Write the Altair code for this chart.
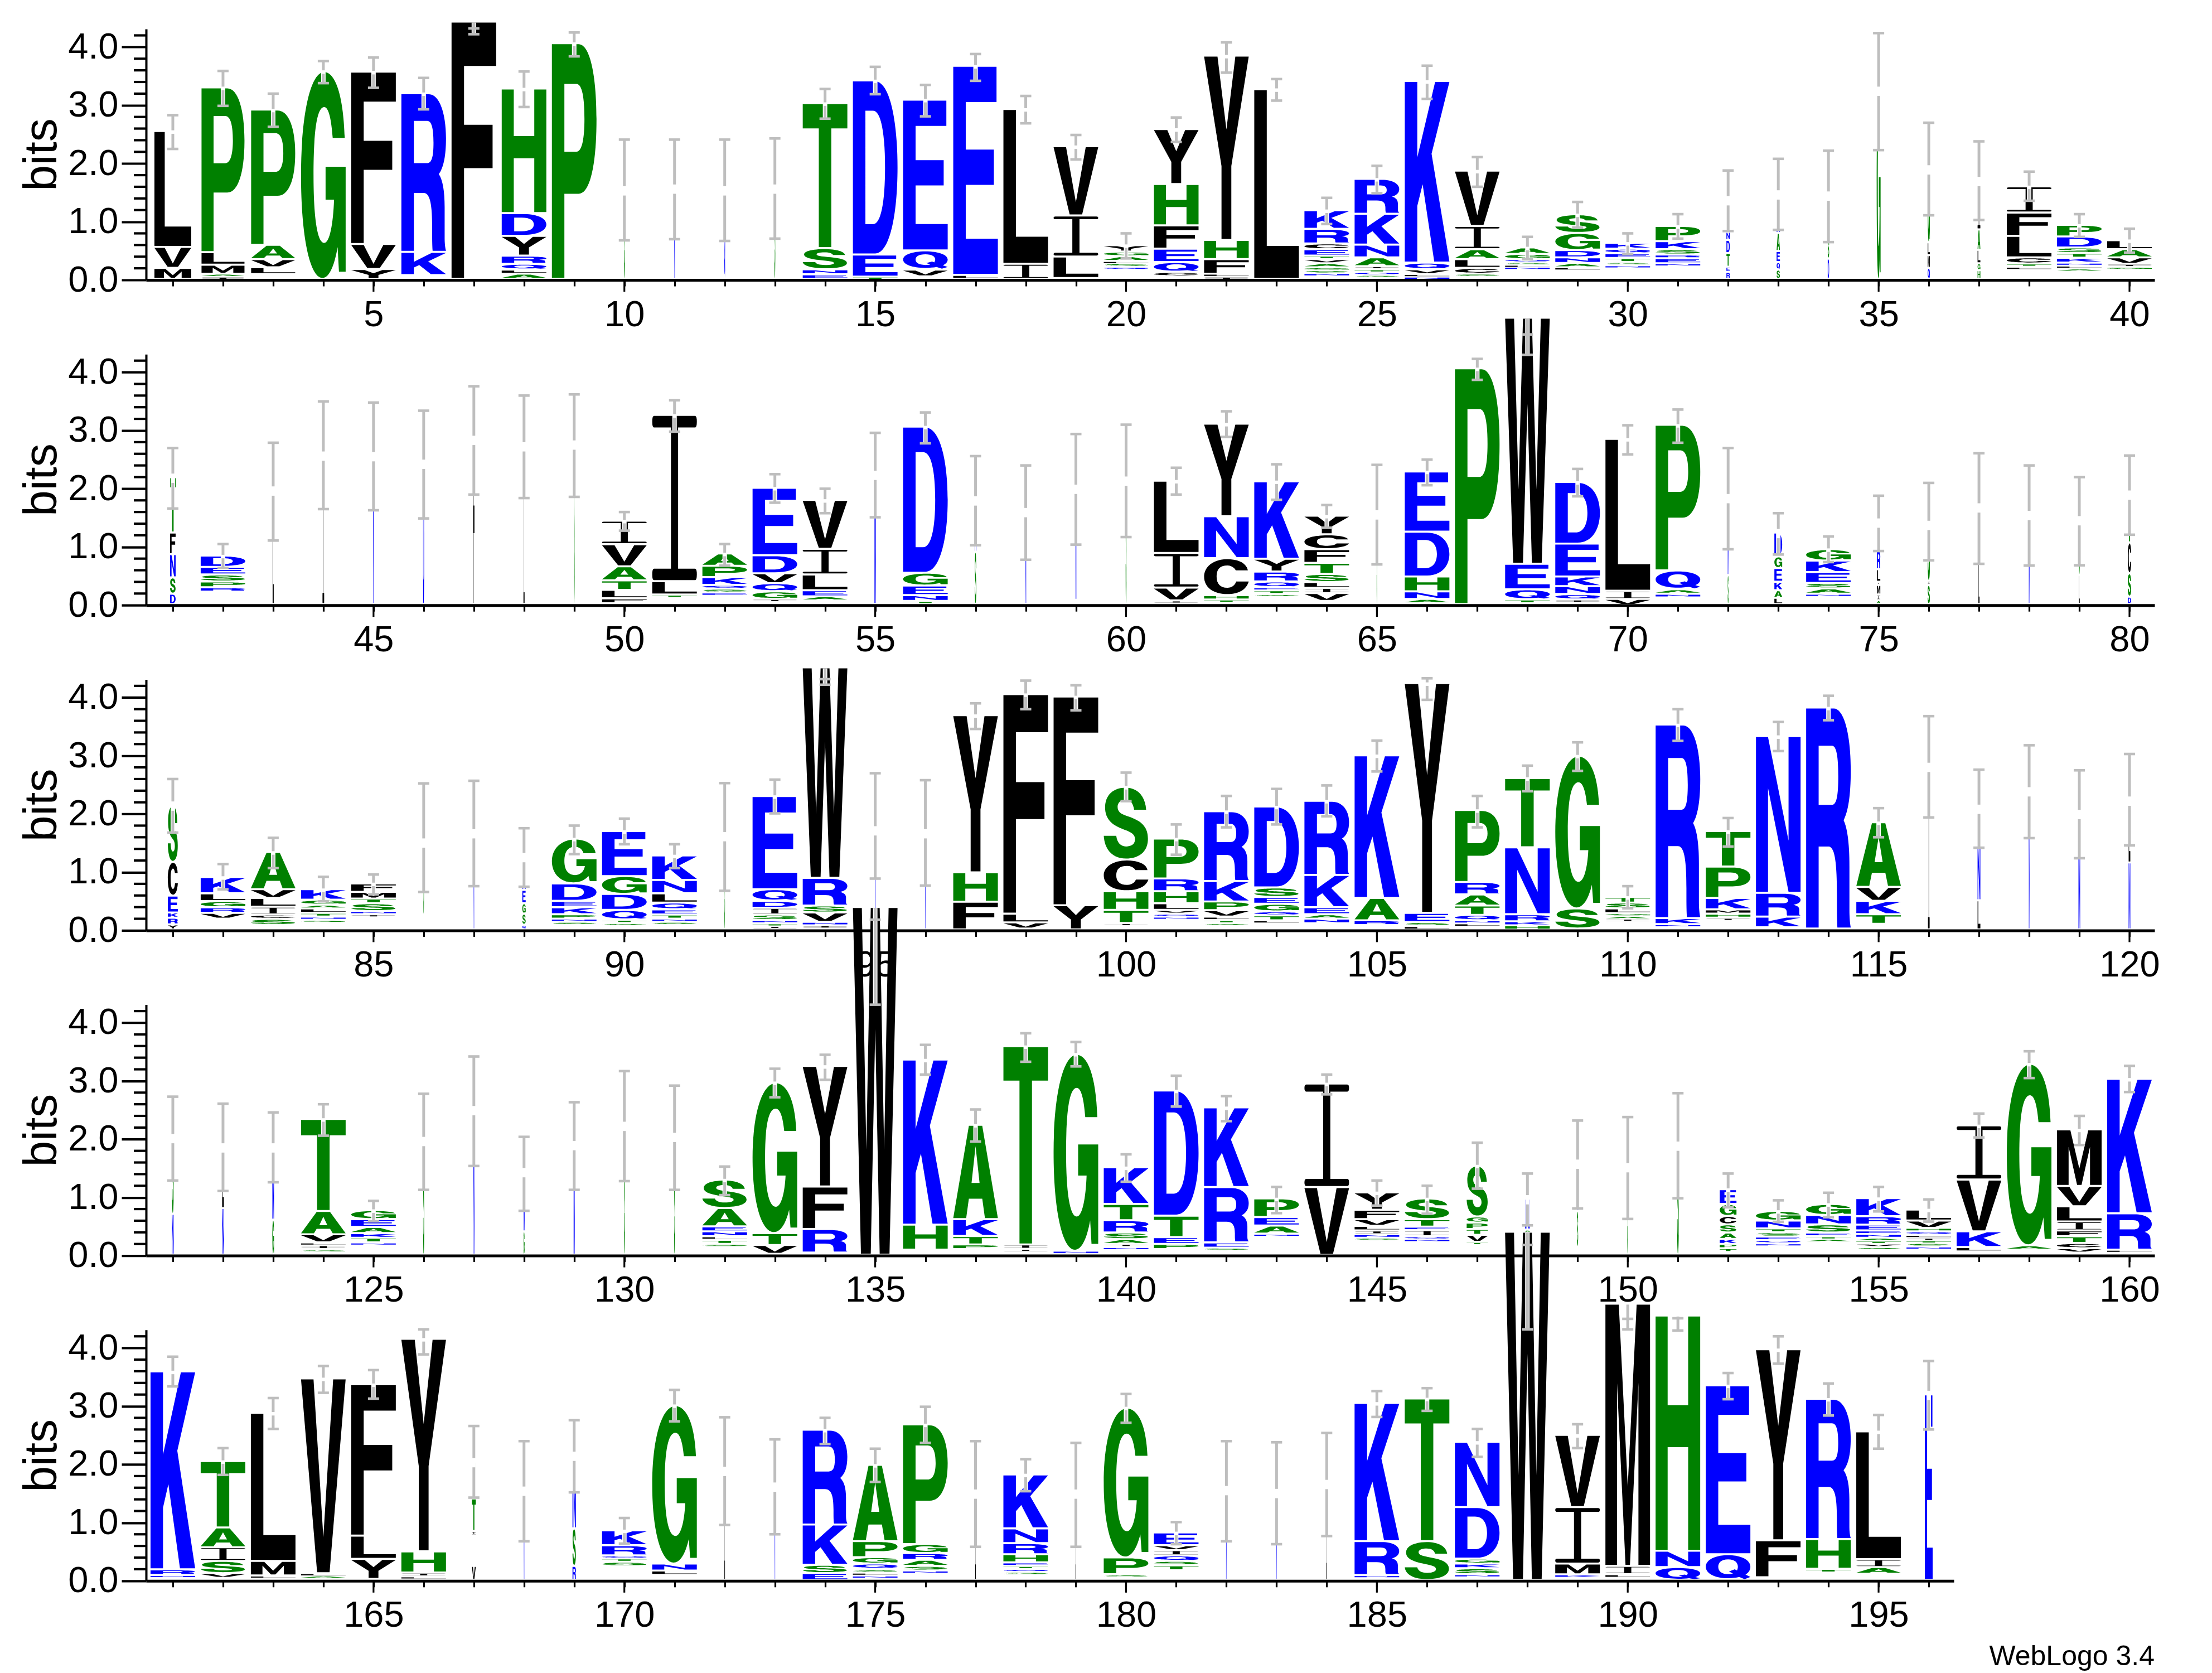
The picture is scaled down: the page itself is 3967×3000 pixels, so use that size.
import re
import altair as alt
import pandas as pd

FONT = "Liberation Sans"
GREEN, BLUE, BLACK, GRAY = "#008000", "#0000ff", "#000000", "#bebebe"
COLORS = {**{c: GREEN for c in "AGSTHP"}, **{c: BLUE for c in "DEKRNQ"}, **{c: BLACK for c in "CFILMVWY"}}

# Each entry: (stack, error-bar top, error-bar bottom).
# A stack lists, bottom to top, letter + top of the glyph in bits. A bare number is an empty stretch.
ROW1 = [
("M.19 V.55 L2.54",2.83,2.25),("I.04 A.09 M.245 L.46 P3.29",3.59,2.99),(".117 L.2 V.34 A.586 P2.91",3.2,2.63),("G3.57",3.76,3.38),
(".03 Y.17 V.6 F3.56",3.82,3.30),(".1 K.465 R3.19",3.47,2.93),("F4.42",4.32,4.22),("A.09 L.16 Q.26 R.4 Y.74 D1.13 H3.27",3.58,2.97),
("P4.05",4.25,3.84),("S1.53",2.41,.68),("N1.56",2.41,.70),("Q1.53",2.41,.67),("S1.56",2.43,.71),("E.08 N.165 S.53 T3.02",3.28,2.77),
("T.04 E.42 D3.41",3.66,3.19),(".08 V.16 Q.49 E3.08",3.35,2.81),("L.07 E3.66",3.88,3.42),("I.26 L2.92",3.16,2.69),(".05 L.385 I1.09 V2.28",2.49,2.07),
(".19 Q.21 S.27 L.31 A.39 G.47 Y.58",.80,.37),(".08 C.12 Q.29 E.52 F.92 H1.63 Y2.575",2.79,2.37),("I.04 L.09 F.34 H.67 Y3.835",4.08,3.56),
("L3.26",3.45,3.08),(".09 N.1 S.15 G.2 A.27 V.34 T.4 E.51 C.61 R.86 K1.18",1.41,.96),(".05 S.07 Q.12 T.165 I.22 A.37 N.59 K1.12 R1.72",1.96,1.49),
("N.04 L.085 V.165 Q.28 K3.4",3.68,3.11),(".07 S.09 C.19 L.34 A.51 I.91 V1.86",2.11,1.6),(".2 N.21 L.245 S.29 Q.34 G.43 A.54",.74,.355),
(".19 L.2 A.275 N.37 D.495 G.79 S1.11",1.34,.9),(".22 N.235 S.29 T.36 E.44 Q.52 K.62",.8,.44),(".26 N.27 E.355 R.42 S.51 K.65 P.91",1.13,.71),
("R.12 E.21 T.445 D.67 N.81 Q1.36",1.88,.84),("S.16 Q.29 E.48 A.79 N1.46",2.08,.86),("D.35 S.7 E1.44",2.22,.65),("G3.24",4.24,2.23),
("Q.19 M.41 L.63 G1.89",2.7,1.11),("H.15 G.27 L.5 A.85 I1.69",2.38,1.03),(".2 L.21 T.265 C.37 L.74 F1.14 I1.59",1.86,1.36),
(".17 A.18 L.23 N.28 K.365 T.445 S.54 D.73 P.93",1.13,.74),(".2 G.21 I.26 V.37 A.51 L.665",.88,.47),
]
ROW2 = [
("D.18 S.46 N.86 F1.23 T2.18",2.7,1.66),(".25 R.29 P.39 S.51 E.64 D.835",1.05,.64),("L1.96",2.79,1.11),("I2.56",3.5,1.65),("N2.55",3.48,1.63),
("D2.42",3.34,1.49),("F2.83",3.76,1.9),("I2.72",3.6,1.84),("S2.75",3.62,1.86),(".05 F.1 L.245 T.41 A.65 V1.03 I1.435",1.6,1.28),
(".14 T.165 L.395 I3.25",3.52,2.98),(".19 E.2 S.265 Q.33 K.465 P.66 A.87",1.05,.68),(".08 I.09 G.22 Q.36 V.53 D.84 E2.0",2.25,1.76),
(".1 A.135 E.24 L.51 I.95 V1.79",2.0,1.58),("N2.23",2.96,1.51),("T.055 N.155 E.32 G.54 D3.05",3.31,2.78),("S.9 N1.79",2.56,1.03),("N1.59",2.4,.78),
(".11 N1.99",2.94,1.04),("S2.13",3.1,1.17),(".05 I.065 V.285 I.88 L2.12",2.36,1.9),(".06 T.08 H.155 C.79 N1.51 Y3.1",3.33,2.89),
(".16 S.175 T.24 E.29 Q.39 R.56 Y.78 K2.11",2.42,1.81),(".09 V.19 I.28 L.38 S.52 T.71 F.945 C1.2 Y1.52",1.72,1.33),("S1.55",2.41,.7),
(".05 A.09 N.22 H.475 D1.245 E2.28",2.5,2.06),("P4.05",4.23,3.87),(".05 T.08 Q.255 E.695 W4.92",4.65,4.3),(".06 I.08 Q.175 N.31 K.475 E1.04 D2.1",2.34,1.87),
(".02 V.09 I.23 L2.84",3.09,2.59),(".15 N.18 A.255 Q.58 P3.08",3.36,2.79),("S.5 N1.83",2.7,.96),("L.11 A.24 K.385 E.62 G.82 D1.23",1.58,.87),
(".17 N.18 A.27 S.365 E.55 K.75 G.945",1.18,.74),("A.07 I.165 M.33 I.385 L.6 R.92 L1.41",1.88,.93),("S.33 I.4 S1.37",2.1,.77),("L.7 S1.67",2.61,.71),
("N1.54",2.4,.68),("L.5 S1.45",2.2,.685),("D.13 S.53 C1.06 T1.89",2.57,1.21),
]
ROW3 = [
("Y.085 R.2 K.29 E.58 C1.16 S2.135",2.6,1.68),(".22 V.285 R.38 G.485 L.62 K.9",1.14,.705),(".11 S.18 C.255 I.39 L.54 V.69 A1.33",1.59,1.07),
(".15 S.167 N.22 T.285 L.36 A.425 G.51 K.69",.92,.5),(".25 I.26 N.315 S.45 T.53 M.645 F.79",.96,.62),(".29 S1.5",2.525,.66),("N1.66",2.57,.76),
("Q.08 S.27 G.45 E.68 N.9 T1.25",1.755,.75),(".11 S.13 N.185 P.26 K.38 E.49 D.79 G1.56",1.8,1.31),(".1 S.11 T.167 Q.335 D.61 G.915 E1.69",1.92,1.48),
(".12 S.13 N.185 T.255 E.345 Q.46 L.62 N.85 K1.27",1.48,1.07),("S1.61",2.53,.68),(".05 I.06 T.105 N.16 S.255 I.37 D.49 Q.69 E2.29",2.59,2.01),
(".05 I.07 N.13 V.29 S.41 R.885 W4.5",4.315,4.22),("N1.71",2.7,.89),("N1.66",2.58,.77),("F.475 H.98 Y3.68",3.9,3.46),(".05 V.12 L.27 F4.04",4.29,3.8),
("Y.415 F4.0",4.21,3.78),(".09 I.11 T.335 H.655 C1.2 S2.45",2.71,2.22),(".21 N.22 Q.27 V.335 L.45 H.655 R.875 P1.56",1.82,1.3),
(".1 S.11 T.16 L.22 V.33 P.48 K.83 R2.03",2.31,1.77),(".15 L.156 T.24 Q.31 G.44 E.557 S.72 D2.11",2.43,1.82),(".14 N.185 A.26 E.38 K.935 R2.21",2.49,1.96),
(".11 R.156 A.54 K2.99",3.26,2.73),(".03 L.06 S.125 E.285 Y4.23",4.33,3.96),(".08 L.105 N.156 Q.25 T.41 A.6 R.815 P2.05",2.31,1.77),
(".03 H.07 K.14 R.26 N1.41 T2.6",2.83,2.39),(".05 S.36 G2.985",3.23,2.74),(".17 I.185 A.23 G.28 L.36 S.46 T.557",.76,.38),(".07 N.09 K.195 R3.52",3.8,3.255),
(".19 I.2 H.27 M.345 K.54 P1.08 T1.69",1.93,1.44),(".07 K.22 R.63 N3.32",3.58,3.08),(".05 R3.81",4.03,3.61),(".13 T.26 K.49 V.73 A1.84",2.1,1.6),
("I2.8",3.68,1.94),("L.5 N1.42 S2.08",2.76,1.42),("N2.38",3.18,1.585),("N1.99",2.75,1.24),("N1.15 L2.22",3.03,1.46),
]
ROW4 = [
("N.7 S2.01",2.73,1.29),("N.8 L1.85",2.61,1.11),("G.6 N1.85",2.46,1.26),(".08 S.095 I.165 L.21 V.35 A.75 T2.33",2.6,2.06),
(".2 N.21 T.29 K.37 A.475 E.61 G.765",.94,.59),("S1.96",2.78,1.13),("N2.49",3.42,1.54),("G.4 N1.425",2.04,.77),("N1.89",2.635,1.13),("S2.22",3.17,1.28),
("S2.03",2.92,1.13),(".17 S.185 T.255 L.315 N.4 E.485 A.8 S1.29",1.53,1.04),(".05 V.165 T.37 G2.96",3.21,2.72),(".07 R.44 F1.17 Y3.24",3.45,3.02),
("W5.97",5.77,4.31),(".12 H.515 K3.35",3.62,3.11),(".13 P.175 T.32 K.61 A2.23",2.51,1.96),(".08 I.1 I.175 T3.58",3.82,3.33),(".05 N.067 G3.45",3.67,3.25),
(".12 N.13 I.185 A.265 S.38 R.59 T.87 K1.5",1.74,1.27),(".13 P.185 E.3 T.67 D2.82",3.09,2.56),(".11 S.12 E.21 R1.16 K2.53",2.74,2.31),
(".35 N.36 A.5 E.645 P.965",1.18,.73),(".03 V1.16 I2.94",3.11,2.77),(".28 S.29 N.35 I.415 L.495 V.61 F.77 Y1.07",1.29,.86),
(".26 N.27 Q.315 I.42 E.48 T.61 S.965",1.2,.72),(".2 T.22 V.34 T.44 P.55 G.655 S1.53",1.94,1.15),(".25 S.38 G.43 N.96",1.41,.52),(".17 S.75 N1.57",2.32,.81),
("S1.51",2.38,.63),("S1.88",2.79,.985),(".08 T.11 P.185 K.27 A.38 S.52 C.665 G.87 E1.125",1.41,.83),(".19 N.195 Q.25 E.31 S.385 T.45 N.585 G.75",.95,.58),
(".26 A.27 T.315 E.38 S.52 N.68 G.87",1.08,.66),(".12 S.13 V.19 T.24 A.29 N.355 E.415 E.515 R.66 K.97",1.18,.76),
(".13 N.14 S.2 T.245 I.29 L.34 Q.4 H.46 V.585 L.775",.965,.585),(".09 L.13 K.4 V1.29 I2.22",2.44,2.03),(".12 A.16 G3.28",3.51,3.05),
(".07 V.11 C.2 T.315 F.415 I.57 L.83 V1.18 M2.15",2.4,1.9),(".07 L.085 R.71 K3.02",3.26,2.81),
]
ROW5 = [
(".07 N.085 R.18 K3.58",3.85,3.34),(".07 V.115 S.325 I.56 A.9 T2.04",2.28,1.82),(".06 L.075 M.325 L2.87",3.14,2.61),(".06 A.075 L.115 V3.46",3.69,3.23),
(".05 Y.36 L.76 F3.36",3.62,3.13),(".05 L.06 I.125 H.49 Y4.14",4.32,3.89),("V.24 .8 I.84 T1.4 T2.03",2.66,1.43),("N1.54",2.4,.68),("R.24 S.885 N2.14",2.76,1.52),
(".27 S.31 T.37 Q.42 R.595 K.85",1.08,.64),(".12 L.16 N.28 G3.0",3.28,2.74),("L1.88",2.81,.96),("N1.61",2.43,.8),(".03 E.116 S.26 K.95 R2.58",2.8,2.35),
(".06 N.075 L.125 S.19 Q.28 G.39 P.665 A1.975",2.27,1.7),(".15 N.16 S.24 A.345 R.46 G.615 P2.67",2.99,2.37),("L1.49",2.4,.585),
(".13 S.137 Q.19 T.24 E.3 H.44 R.63 N.885 K1.81",2.09,1.54),("L1.49",2.37,.585),(".08 S.096 P.385 G2.96",3.21,2.715),(".2 T.25 S.325 Q.42 I.51 V.595 E.815",1.01,.63),
("N1.55",2.4,.68),("N1.5",2.38,.63),("L1.655",2.54,.77),(".07 N.083 R.665 K3.04",3.26,2.815),(".03 S.665 T3.115",3.31,2.92),
(".08 N.096 S.2 K.28 G.365 D1.25 N2.37",2.61,2.13),("W5.98",5.77,4.32),(".07 K.095 M.28 I1.25 V2.49",2.69,2.28),(".07 L.096 I.24 M4.745",4.5,4.32),
(".03 Q.22 N.5 H4.54",4.51,4.3),(".03 Q.44 E3.34",3.57,3.12),(".08 F.68 Y3.96",4.2,3.73),(".16 T.19 H.7 R3.11",3.39,2.84),(".14 A.22 I.355 L2.55",2.85,2.27),
("E3.185",3.775,2.6),
]
ROWS = [(1, ROW1), (41, ROW2), (81, ROW3), (121, ROW4), (161, ROW5)]

# Stack width in px where a position is narrower than the full 80 px column.
WIDTHS = {1:66,2:77,3:79,10:1.5,11:1.5,12:1.5,13:1.5,32:6,33:6,34:2.5,35:7,36:4,37:5,41:10,43:2,44:3,45:1.5,46:2,47:2.5,48:2,49:1.5,
55:2.5,57:2.5,58:1.5,59:1.5,60:1.5,65:1,72:1.5,73:14,75:6,76:4,77:2,78:1.5,79:1.5,80:6,81:18,86:1,87:1,88:6,92:1,95:1,96:1,
116:3,117:5,118:1.5,119:3,120:3,121:3,122:3,123:3,126:2,127:2,128:2,129:2,130:1.5,131:1.5,147:38,148:8,149:2,150:1.5,151:3,152:30,
167:7,168:1,169:6,172:1,173:1,177:1,179:1,182:1,183:1,184:1,196:14}
FULL_WIDTH = 80

# Letter outlines in a unit box, y up, counters wound the opposite way.
GLYPHS = {
"A": "M0,0L.29,0L.35,.21L.65,.21L.71,0L1,0L.65,1L.35,1ZM.5,.78L.59,.38L.41,.38Z",
"C": "M.98,.68C.95,.9 .75,1 .52,1C.2,1 0,.78 0,.5C0,.2 .2,0 .52,0C.78,0 .95,.13 1,.36L.72,.36C.69,.25 .62,.18 .52,.18C.36,.18 .28,.3 .28,.5C.28,.72 .36,.82 .52,.82C.62,.82 .68,.75 .71,.68Z",
"D": "M0,0L0,1L.5,1C.82,1 1,.78 1,.5C1,.22 .82,0 .5,0ZM.28,.17L.45,.17C.63,.17 .72,.3 .72,.5C.72,.7 .63,.83 .45,.83L.28,.83Z",
"E": "M0,0L0,1L.97,1L.97,.83L.28,.83L.28,.6L.91,.6L.91,.43L.28,.43L.28,.17L1,.17L1,0Z",
"F": "M0,0L0,1L1,1L1,.83L.28,.83L.28,.6L.92,.6L.92,.43L.28,.43L.28,0Z",
"G": "M.98,.68C.95,.9 .75,1 .52,1C.2,1 0,.78 0,.5C0,.2 .2,0 .48,0C.62,0 .74,.05 .82,.15L.85,.03L1,.03L1,.54L.55,.54L.55,.38L.74,.38C.72,.26 .64,.17 .52,.17C.36,.17 .28,.3 .28,.5C.28,.72 .36,.83 .52,.83C.62,.83 .68,.77 .71,.68Z",
"H": "M0,0L0,1L.27,1L.27,.62L.73,.62L.73,1L1,1L1,0L.73,0L.73,.44L.27,.44L.27,0Z",
"I": "M.04,1L.96,1Q1,1 1,.965Q1,.93 .96,.93L.58,.93L.58,.07L.96,.07Q1,.07 1,.035Q1,0 .96,0L.04,0Q0,0 0,.035Q0,.07 .04,.07L.42,.07L.42,.93L.04,.93Q0,.93 0,.965Q0,1 .04,1Z",
"K": "M0,0L0,1L.28,1L.28,.58L.68,1L1,1L.6,.6L1,0L.66,0L.4,.43L.28,.31L.28,0Z",
"L": "M0,0L0,1L.28,1L.28,.17L1,.17L1,0Z",
"M": "M0,0L0,1L.3,1L.5,.3L.7,1L1,1L1,0L.74,0L.74,.7L.55,0L.45,0L.26,.7L.26,0Z",
"N": "M0,0L0,1L.27,1L.73,.33L.73,1L1,1L1,0L.73,0L.27,.67L.27,0Z",
"P": "M0,0L0,1L.6,1C.85,1 1,.87 1,.68C1,.48 .85,.36 .6,.36L.28,.36L.28,0ZM.28,.54L.55,.54C.68,.54 .73,.6 .73,.68C.73,.77 .68,.83 .55,.83L.28,.83Z",
"Q": "M.5,1C.8,1 1,.8 1,.52C1,.38 .96,.27 .89,.19L1,.09L.87,0L.75,.09C.68,.06 .6,.04 .5,.04C.2,.04 0,.24 0,.52C0,.8 .2,1 .5,1ZM.5,.83C.35,.83 .28,.7 .28,.52C.28,.34 .35,.21 .5,.21C.54,.21 .58,.22 .61,.24L.52,.32L.65,.41L.7,.36C.71,.41 .72,.46 .72,.52C.72,.7 .65,.83 .5,.83Z",
"R": "M0,0L0,1L.62,1C.85,1 1,.88 1,.72C1,.6 .94,.53 .84,.49C.93,.45 .97,.38 .97,.28L.97,.08C.97,.05 .98,.02 1,0L.7,0C.69,.04 .69,.08 .69,.15C.69,.3 .64,.37 .5,.37L.28,.37L.28,0ZM.28,.56L.58,.56C.68,.56 .72,.6 .72,.69C.72,.78 .68,.83 .58,.83L.28,.83Z",
"S": "M.95,.69L.68,.69C.66,.78 .6,.83 .49,.83C.38,.83 .31,.79 .31,.73C.31,.66 .38,.63 .52,.6C.82,.54 .99,.46 .99,.28C.99,.1 .8,0 .5,0C.2,0 .02,.12 0,.32L.28,.32C.3,.22 .38,.17 .5,.17C.63,.17 .7,.21 .7,.27C.7,.34 .63,.37 .45,.41C.18,.47 .03,.56 .03,.72C.03,.9 .22,1 .49,1C.76,1 .93,.88 .95,.69Z",
"T": "M.36,0L.36,.83L0,.83L0,1L1,1L1,.83L.64,.83L.64,0Z",
"V": "M0,1L.28,1L.5,.18L.72,1L1,1L.64,0L.36,0Z",
"W": "M0,1L.2,1L.3,.3L.4,1L.6,1L.7,.3L.8,1L1,1L.82,0L.6,0L.5,.65L.4,0L.18,0Z",
"Y": "M0,1L.3,1L.5,.6L.7,1L1,1L.61,.4L.61,0L.39,0L.39,.4Z",
}

PANEL_W = 3602
PANEL_H = 450
Y_MAX = 4.31
PX_PER_BIT = PANEL_H / Y_MAX
PX_PER_POS = 89.98
X_START_OFFSET = 0.533
GAP_BITS = 0.035
CAP = "M-10,-2.3L10,-2.3L10,2.3L-10,2.3Z"
PAIR = re.compile(r"(-?\d*\.?\d+),(-?\d*\.?\d+)")


def stretched(letter, w, h):
    # A symbol of size 4 draws its path 1:1 in pixels, so the outline carries the stack's width and the letter's height.
    def sub(m):
        return f"{(float(m.group(1)) - .5) * w:.2f},{-float(m.group(2)) * h:.2f}"
    return PAIR.sub(sub, GLYPHS[letter])


def panel(start, entries, last=False):
    letters, halos, bars, caps = [], [], [], []
    for i, (stack, hi, lo) in enumerate(entries):
        pos = start + i
        w = WIDTHS.get(pos, FULL_WIDTH)
        prev = 0.0
        top = 0.0
        for tok in stack.split():
            if tok[0].isalpha():
                letter, top = tok[0], float(tok[1:])
                bottom = prev + GAP_BITS
                if top - bottom < 0.02:
                    bottom = top - 0.02
                letters.append({"pos": pos, "y": bottom, "letter": letter, "color": COLORS[letter],
                                "path": stretched(letter, w, (top - bottom) * PX_PER_BIT)})
                prev = top
            else:
                top = float(tok)
                prev = top - GAP_BITS
        upper = max(hi, top)
        halos.append({"pos": pos, "y": lo, "b": upper})
        gap = 0.08 if w < 30 else 0.03
        if lo < top < hi:
            bars.append({"pos": pos, "y": lo, "b": top - gap})
            bars.append({"pos": pos, "y": top + gap, "b": hi})
        else:
            bars.append({"pos": pos, "y": lo, "b": upper})
        caps += [{"pos": pos, "y": hi}, {"pos": pos, "y": lo}]

    end = start + len(entries) - 1
    positions = list(range(start, end + 1))
    x_dom = [start - X_START_OFFSET, end + 0.5]
    width = round((x_dom[1] - x_dom[0]) * PX_PER_POS)
    x_scale = alt.Scale(domain=x_dom, nice=False, zero=False)
    y_scale = alt.Scale(domain=[0, Y_MAX], nice=False)
    x_axis = alt.Axis(values=positions, tickSize=11, tickWidth=3.2, tickColor=BLACK, domainWidth=5, domainColor=BLACK,
                      labelExpr="datum.value % 5 == 0 ? datum.label : ''", labelFont=FONT, labelFontSize=65,
                      labelColor=BLACK, labelPadding=20, labelOverlap=False, labelFlush=False, grid=False, format="d")
    y_axis = alt.Axis(values=[0, 1, 2, 3, 4], format=".1f", tickSize=44, tickWidth=4.2, tickColor=BLACK,
                      domainWidth=4, domainColor=BLACK, labelFont=FONT, labelFontSize=65, labelColor=BLACK,
                      labelPadding=6, grid=False, titleFont=FONT, titleFontSize=84, titleFontWeight="normal",
                      titleColor=BLACK, titleX=-162, titleY=225, titleAlign="center", titleBaseline="alphabetic", titleAngle=270)
    x = alt.X("pos:Q", scale=x_scale, title=None, axis=x_axis)
    y = alt.Y("y:Q", scale=y_scale, title="bits", axis=y_axis)

    letter_layer = alt.Chart(pd.DataFrame(letters)).mark_point(filled=True, size=4, opacity=1, strokeWidth=0).encode(
        x=x, y=y, shape=alt.Shape("path:N", scale=None), color=alt.Color("color:N", scale=None))
    halo = alt.Chart(pd.DataFrame(halos)).mark_rule(color="white", strokeWidth=8).encode(x=x, y=y, y2="b:Q")
    bar = alt.Chart(pd.DataFrame(bars)).mark_rule(color=GRAY, strokeWidth=5).encode(x=x, y=y, y2="b:Q")
    cap = alt.Chart(pd.DataFrame(caps)).mark_point(shape=CAP, filled=True, size=4, opacity=1, strokeWidth=0, color=GRAY).encode(x=x, y=y)
    minor_y = alt.Chart(pd.DataFrame({"y": [v / 10 for v in range(2, 44, 2) if v % 10]})).mark_rule(color=BLACK, strokeWidth=4.2).encode(
        x=alt.value(-22), x2=alt.value(0), y=y)
    major_x = alt.Chart(pd.DataFrame({"pos": [p for p in positions if p % 5 == 0]})).mark_rule(color=BLACK, strokeWidth=3.2).encode(
        x=x, y=alt.value(PANEL_H), y2=alt.value(PANEL_H + 21))
    layers = [letter_layer, halo, bar, cap, minor_y, major_x]
    if last:
        layers.append(alt.Chart(pd.DataFrame({"t": ["WebLogo 3.4"]})).mark_text(
            font=FONT, fontSize=50, align="right", baseline="alphabetic", color=BLACK).encode(
            text="t:N", x=alt.value(PANEL_W), y=alt.value(601)))
    return alt.layer(*layers).properties(width=width, height=PANEL_H)


panels = [panel(s, e, last=(s == 161)) for s, e in ROWS]
chart = alt.vconcat(*panels, spacing=133.2, bounds="flush").properties(
    padding={"left": 25, "top": 28, "right": 5, "bottom": 5}
).configure_view(stroke=None)
chart.save("out.html", embed_options={"renderer": "svg", "actions": False})
